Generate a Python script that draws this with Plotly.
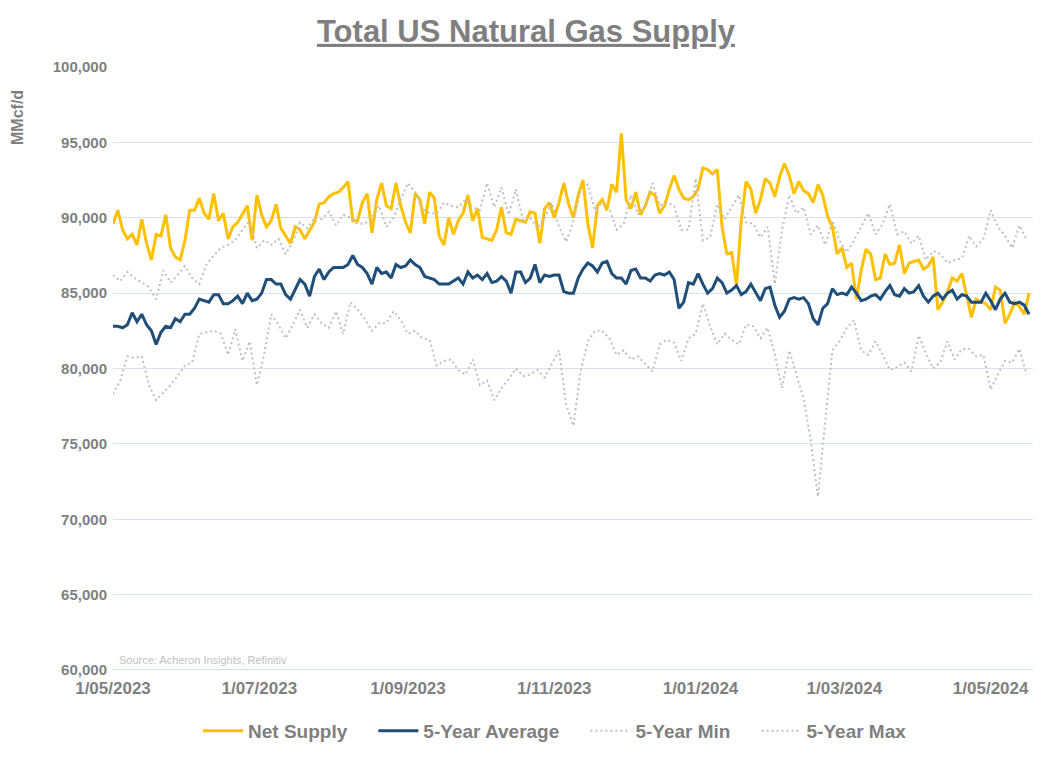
import pandas as pd
import plotly.graph_objects as go

# Values in thousand MMcf/d
# Net Supply & 5-Year Average: every 2 days starting 2023-05-01
net_supply = [
    89.6, 90.5, 89.2, 88.6, 88.9, 88.2, 89.9, 88.3, 87.2, 88.9, 88.8, 90.2, 88.0, 87.4, 87.2, 88.5,
    90.5, 90.5, 91.3, 90.3, 89.9, 91.6, 89.8, 90.3, 88.6, 89.4, 89.7, 90.3, 90.8, 88.5, 91.5, 90.2, 89.4,
    89.8, 90.9, 89.3, 88.8, 88.3, 89.4, 89.2, 88.6, 89.2, 89.7, 90.9, 91.0, 91.4, 91.6, 91.7, 92.0,
    92.4, 89.8, 89.8, 91.0, 91.6, 89.0, 91.2, 92.3, 90.8, 90.6, 92.3, 90.8, 89.7, 89.0, 91.6, 91.2,
    89.6, 91.7, 91.3, 88.8, 88.2, 90.0, 88.9, 89.8, 90.3, 91.5, 89.8, 90.6, 88.7, 88.6, 88.5, 89.2,
    90.7, 89.0, 88.9, 89.9, 89.8, 89.7, 90.4, 90.3, 88.3, 90.6, 91.0, 90.0, 91.0, 92.3, 90.9, 90.0, 91.5,
    92.5, 89.6, 88.0, 90.8, 91.2, 90.5, 92.2, 91.7, 95.6, 91.2, 90.6, 91.7, 90.2, 90.8, 91.7, 91.5,
    90.3, 90.8, 91.9, 92.8, 91.9, 91.3, 91.2, 91.4, 91.9, 93.3, 93.2, 92.9, 93.2, 89.4, 87.6, 87.7, 85.5,
    89.8, 92.4, 91.9, 90.3, 91.2, 92.6, 92.3, 91.4, 92.7, 93.6, 92.8, 91.6, 92.4, 91.8, 91.6, 91.0,
    92.2, 91.5, 90.1, 89.4, 87.6, 88.0, 86.7, 87.0, 84.6, 86.5, 87.9, 87.6, 85.9, 86.0, 87.6, 86.9, 87.0,
    88.2, 86.3, 87.0, 87.1, 87.2, 86.6, 86.8, 87.4, 83.9, 84.4, 85.1, 86.0, 85.8, 86.3, 84.9, 83.4,
    84.6, 84.4, 84.3, 83.9, 85.4, 85.2, 83.0, 83.6, 84.4, 84.1, 83.6, 85.0,
]
avg_5yr = [
    82.8, 82.8, 82.7, 82.9, 83.7, 83.1, 83.6, 82.9, 82.5, 81.6, 82.4, 82.8, 82.7, 83.3, 83.1, 83.6,
    83.6, 84.0, 84.6, 84.5, 84.4, 84.9, 84.9, 84.3, 84.3, 84.5, 84.8, 84.3, 85.0, 84.5, 84.6, 85.0, 85.9,
    85.9, 85.6, 85.6, 84.9, 84.6, 85.2, 85.9, 85.6, 84.8, 86.1, 86.6, 85.9, 86.4, 86.7, 86.7, 86.7,
    86.9, 87.5, 86.9, 86.7, 86.3, 85.6, 86.7, 86.3, 86.4, 86.0, 86.9, 86.7, 86.8, 87.2, 86.9, 86.7,
    86.1, 86.0, 85.9, 85.6, 85.6, 85.6, 85.8, 86.0, 85.6, 86.4, 86.0, 86.2, 85.9, 86.3, 85.7, 85.8,
    86.1, 85.8, 85.0, 86.4, 86.4, 85.7, 86.0, 86.9, 85.7, 86.2, 86.1, 86.2, 86.2, 85.1, 85.0, 85.0, 86.0,
    86.6, 87.0, 86.8, 86.4, 87.0, 87.1, 86.3, 86.0, 86.0, 85.6, 86.5, 86.6, 86.0, 86.0, 85.8, 86.2,
    86.3, 86.2, 86.4, 85.9, 84.0, 84.4, 85.7, 85.6, 86.3, 85.6, 85.0, 85.3, 86.0, 85.7, 85.0, 85.2, 85.5,
    84.9, 85.1, 85.6, 85.0, 84.5, 85.3, 85.4, 84.2, 83.4, 83.8, 84.6, 84.7, 84.6, 84.7, 84.3, 83.3,
    82.9, 84.0, 84.3, 85.3, 84.9, 85.0, 84.9, 85.4, 85.0, 84.5, 84.6, 84.8, 84.9, 84.6, 85.1, 85.5, 84.9,
    84.8, 85.3, 85.0, 85.1, 85.5, 84.8, 84.4, 84.8, 85.0, 84.6, 85.0, 85.2, 84.6, 84.9, 84.8, 84.4,
    84.4, 84.4, 85.0, 84.5, 83.9, 84.6, 85.0, 84.4, 84.3, 84.4, 84.2, 83.6,
]
# 5-Year Min / Max: every 3 days starting 2023-05-01
min_5yr = [
    78.3, 79.2, 80.8, 80.7, 80.8, 78.9, 77.9, 78.4, 78.9, 79.5, 80.2, 80.4, 82.3, 82.4, 82.5, 82.3,
    80.9, 82.6, 80.5, 81.8, 78.9, 80.9,
    83.6, 82.9, 82.0, 82.9, 83.9, 82.7, 83.6, 83.0, 82.7, 83.8, 82.3, 84.4, 83.9, 83.3, 82.5, 83.0,
    83.0, 83.8, 83.2, 82.3, 82.5, 82.0,
    81.9, 80.2, 80.5, 80.6, 79.9, 79.6, 80.6, 78.9, 79.2, 77.9, 78.7, 79.3, 80.0, 79.5, 79.6, 79.9,
    79.4, 80.3, 81.2, 77.6, 76.2,
    79.8, 81.8, 82.5, 82.5, 82.0, 80.9, 81.2, 80.6, 80.8, 80.3, 79.8, 81.6, 81.9, 81.7, 80.5, 82.0,
    82.3, 84.3, 82.8, 81.6, 82.3, 81.9,
    81.6, 82.9, 82.8, 82.0, 82.7, 80.9, 78.7, 81.2, 79.6, 78.0, 75.2, 71.5, 76.5, 81.2, 81.8, 82.7,
    83.2, 81.2, 80.9, 81.8, 80.9, 79.9,
    80.1, 80.4, 79.8, 82.2, 81.0, 80.0, 80.4, 81.8, 80.6, 81.3, 81.3, 80.8, 80.9, 78.6, 79.6, 80.5,
    80.4, 81.3, 79.6,
]
max_5yr = [
    86.2, 85.8, 86.4, 86.0, 85.7, 85.4, 84.6, 86.5, 85.7, 86.2, 86.8, 86.0, 85.6, 86.9, 87.5, 88.0,
    88.2, 88.5, 89.2, 89.8, 88.0, 88.5,
    88.2, 88.6, 87.6, 88.4, 89.7, 89.3, 90.0, 89.9, 90.4, 89.5, 90.2, 90.0, 89.6, 89.6, 90.0, 90.8,
    89.4, 90.0, 91.2, 92.3, 91.7, 90.6,
    90.3, 90.3, 91.0, 90.8, 90.7, 91.2, 90.7, 90.5, 92.3, 90.7, 92.0, 90.2, 91.9, 89.8, 90.0, 89.3,
    90.0, 91.0, 89.4, 88.4, 89.8,
    91.8, 92.2, 90.5, 91.0, 90.6, 89.2, 89.6, 91.5, 90.2, 90.8, 92.3, 90.8, 91.0, 90.8, 89.2, 89.2,
    92.6, 88.5, 88.7, 90.9, 89.9, 90.7,
    91.5, 89.7, 89.6, 88.7, 89.4, 85.6, 89.2, 91.5, 90.3, 90.7, 88.9, 89.5, 88.2, 89.8, 88.5, 87.7,
    88.5, 89.4, 90.3, 88.9, 89.6, 90.9,
    88.9, 89.1, 88.3, 88.8, 87.2, 87.8, 87.6, 87.0, 87.2, 87.3, 88.8, 88.1, 88.6, 90.5, 89.4, 88.8,
    88.0, 89.5, 88.5,
]
series_names = ["Net Supply", "5-Year Average", "5-Year Min", "5-Year Max"]

dates_2d = pd.date_range("2023-05-01", periods=len(net_supply), freq="2D")
dates_3d = pd.date_range("2023-05-01", periods=len(min_5yr), freq="3D")
tick_dates = ["2023-05-01", "2023-07-01", "2023-09-01", "2023-11-01",
              "2024-01-01", "2024-03-01", "2024-05-01"]

FONT = "Liberation Sans, Arial, sans-serif"
GRAY = "#7f7f7f"
OFF = 8  # page body margin of the written html
W, H = 1053 - OFF, 767 - OFF
L, T = 113 - OFF, 67 - OFF
R, B = W - (1033 - OFF), H - (670 - OFF)
PW, PH = W - L - R, H - T - B


def k(vals):
    return [v * 1000 for v in vals]


def legend_name(s):
    return s + "&nbsp;&nbsp;&nbsp;&nbsp;"


fig = go.Figure()
fig.add_trace(go.Scatter(x=dates_2d, y=k(net_supply), name=legend_name(series_names[0]),
                         mode="lines", line=dict(color="#FFC000", width=3)))
fig.add_trace(go.Scatter(x=dates_2d, y=k(avg_5yr), name=legend_name(series_names[1]),
                         mode="lines", line=dict(color="#1F4E79", width=3)))
fig.add_trace(go.Scatter(x=dates_3d, y=k(min_5yr), name=legend_name(series_names[2]),
                         mode="lines", line=dict(color="#BFBFBF", width=2, dash="2px,3px")))
fig.add_trace(go.Scatter(x=dates_3d, y=k(max_5yr), name=series_names[3],
                         mode="lines", line=dict(color="#BFBFBF", width=2, dash="2px,3px")))

fig.update_layout(
    width=W, height=H,
    margin=dict(l=L, r=R, t=T, b=B, autoexpand=False),
    paper_bgcolor="white", plot_bgcolor="white",
    font=dict(family=FONT, color=GRAY),
    title=dict(text="<b><u>Total US Natural Gas Supply</u></b>", x=(526 - OFF) / W,
               xref="container", xanchor="center", y=1 - (31 - OFF) / H, yref="container",
               yanchor="middle", font=dict(size=31, color=GRAY, family=FONT)),
    showlegend=True,
    legend=dict(orientation="h", x=(198 - 113) / PW, xanchor="left",
                y=-(731 - 670) / PH, yanchor="middle",
                font=dict(size=19, color=GRAY, family=FONT, weight="bold"),
                itemwidth=40, traceorder="normal", bgcolor="rgba(0,0,0,0)"),
    xaxis=dict(range=["2023-05-01", "2024-05-18 16:00"], tickvals=tick_dates,
               tickformat="%-d/%m/%Y", tickangle=0, showgrid=False, zeroline=False,
               showline=False, ticks="", ticklabelstandoff=6,
               tickfont=dict(size=17, color=GRAY, family=FONT, weight="bold")),
    yaxis=dict(range=[60000, 100000], dtick=5000, tickformat=",", showgrid=True,
               gridcolor="#d6e4f1", gridwidth=1, zeroline=False, showline=False, ticks="",
               ticklabelstandoff=5,
               tickfont=dict(size=15, color=GRAY, family=FONT, weight="bold")),
    annotations=[
        dict(text="<b>MMcf/d</b>", textangle=-90, x=(18 - 113) / PW, xref="paper",
             y=(670 - 118) / PH, yref="paper",
             showarrow=False, font=dict(size=16, color=GRAY, family=FONT),
             xanchor="center", yanchor="middle"),
        dict(text="Source: Acheron Insights, Refinitiv", x=(117 - 113) / PW, xref="paper",
             y=(670 - 660) / PH, yref="paper", xanchor="left", yanchor="middle",
             showarrow=False, font=dict(size=11, color="#bfbfbf", family=FONT)),
    ],
)
fig.add_shape(type="line", xref="paper", yref="y", x0=0, x1=1, y0=60000, y1=60000,
              line=dict(color="#bcd4ea", width=1.5))

fig.write_html("out.html")
